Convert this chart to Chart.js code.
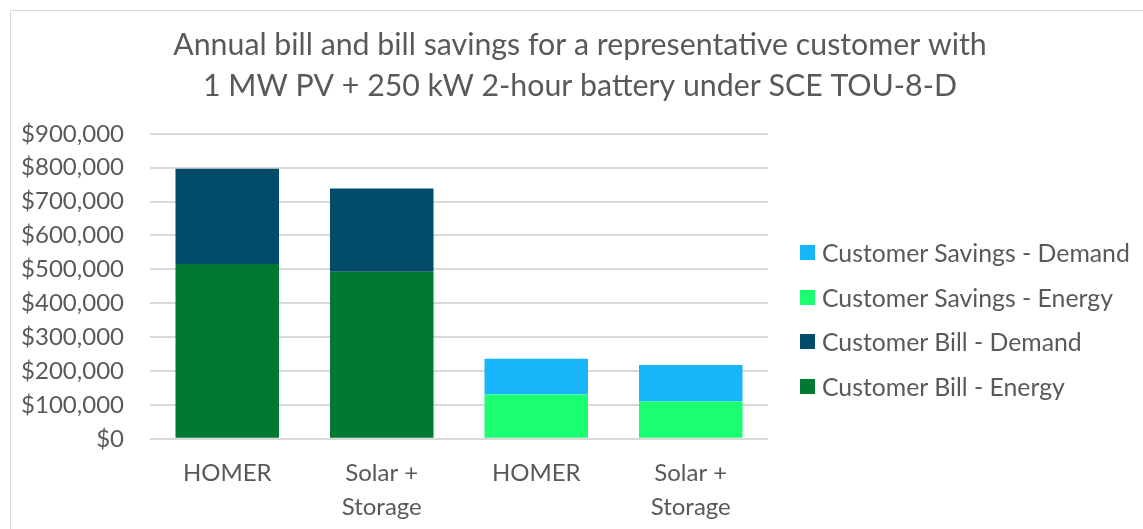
<!DOCTYPE html>
<html>
<head>
<meta charset="utf-8">
<script src="https://cdn.jsdelivr.net/npm/chart.js@4.4.1/dist/chart.umd.min.js"></script>
<style>
  html, body { margin: 0; padding: 0; background: #fff; overflow: hidden; }
  #wrap {
    position: absolute; left: 10px; top: 10px;
    width: 1133px; height: 527px;
    border-left: 1px solid #d9d9d9; border-top: 1px solid #d9d9d9;
    box-sizing: border-box;
  }
  #legend {
    position: absolute; left: 800px; top: 230px;
    font-family: Lato, 'Open Sans', sans-serif; font-size: 24.8px; color: #595959;
  }
  #legend .item { height: 44.7px; display: flex; align-items: center; white-space: nowrap; }
  #legend .box { width: 15px; height: 15px; margin-right: 7px; flex: none; }
</style>
</head>
<body>
<div id="wrap"><canvas id="billChart"></canvas></div>
<div id="legend"></div>
<script>
// Data
const categories = ['HOMER', ['Solar +', 'Storage'], 'HOMER', ['Solar +', 'Storage']];
const billEnergy = [516000, 493000, null, null];
const billDemand = [281000, 246000, null, null];
const savingsEnergy = [null, null, 131000, 110000];
const savingsDemand = [null, null, 105000, 108000];
const titleLines = [
  'Annual bill and bill savings for a representative customer with',
  '1 MW PV + 250 kW 2-hour battery under SCE TOU-8-D'
];

const fontFamily = "Lato, 'Open Sans', sans-serif";
const textColor = '#595959';

const ctx = document.getElementById('billChart').getContext('2d');
const chart = new Chart(ctx, {
  type: 'bar',
  data: {
    labels: categories,
    datasets: [
      { label: 'Customer Bill - Energy', data: billEnergy, backgroundColor: '#007a33' },
      { label: 'Customer Bill - Demand', data: billDemand, backgroundColor: '#034b6b' },
      { label: 'Customer Savings - Energy', data: savingsEnergy, backgroundColor: '#1aff72' },
      { label: 'Customer Savings - Demand', data: savingsDemand, backgroundColor: '#19b5fa' }
    ]
  },
  options: {
    responsive: true,
    maintainAspectRatio: false,
    animation: false,
    datasets: {
      bar: { categoryPercentage: 0.67, barPercentage: 1.0 }
    },
    layout: { padding: { left: 10, right: 4, top: 4, bottom: 4 } },
    plugins: {
      title: {
        display: true,
        text: titleLines,
        color: textColor,
        font: { family: fontFamily, size: 30.3, weight: 'normal', lineHeight: 1.35 },
        padding: { top: 10, bottom: 27 }
      },
      legend: { display: false },
      tooltip: { enabled: false }
    },
    scales: {
      x: {
        stacked: true,
        grid: { display: false },
        border: { display: false },
        ticks: {
          color: textColor,
          font: { family: fontFamily, size: 24, lineHeight: 1.42 },
          padding: 9,
          maxRotation: 0
        }
      },
      y: {
        stacked: true,
        min: 0,
        max: 900000,
        grid: { color: '#d9d9d9', lineWidth: 2, drawTicks: false },
        border: { display: false },
        afterFit: scale => { scale.width = 129; },
        ticks: {
          stepSize: 100000,
          color: textColor,
          font: { family: fontFamily, size: 24 },
          padding: 26,
          callback: v => '$' + v.toLocaleString('en-US')
        }
      },
      // empty right-hand axis, only keeps room for the legend
      yLegendSpace: {
        position: 'right',
        display: true,
        grid: { display: false },
        border: { display: false },
        ticks: { display: false },
        afterFit: scale => { scale.width = 371; }
      }
    }
  }
});

// legend, same order as the reference (top series first)
const legendEl = document.getElementById('legend');
chart.data.datasets.slice().reverse().forEach(ds => {
  const item = document.createElement('div');
  item.className = 'item';
  const box = document.createElement('span');
  box.className = 'box';
  box.style.background = ds.backgroundColor;
  const text = document.createElement('span');
  text.textContent = ds.label;
  item.appendChild(box);
  item.appendChild(text);
  legendEl.appendChild(item);
});
</script>
</body>
</html>
